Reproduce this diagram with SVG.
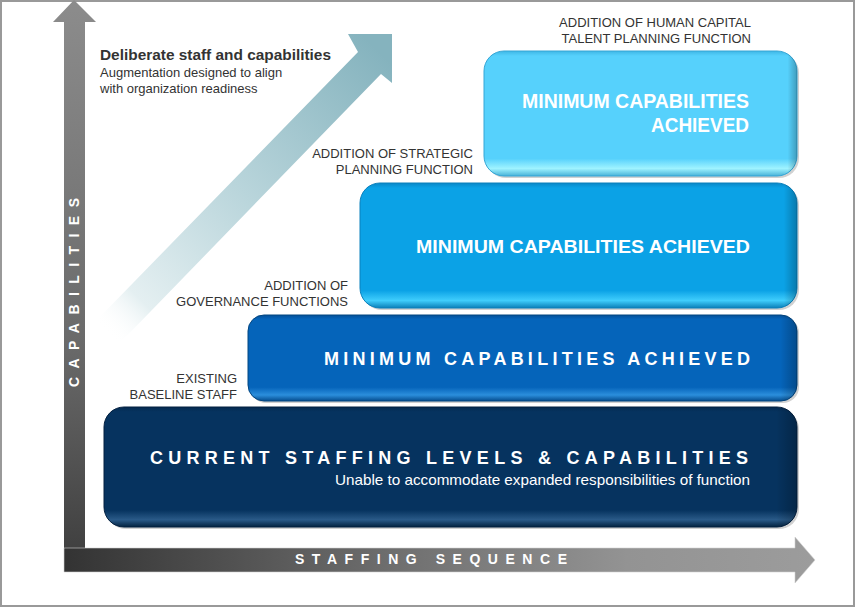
<svg xmlns="http://www.w3.org/2000/svg" width="855" height="607" viewBox="0 0 855 607">
<defs>
<linearGradient id="gV" x1="0" y1="0" x2="0" y2="572" gradientUnits="userSpaceOnUse">
<stop offset="0" stop-color="#8c8c8c"/><stop offset="0.6" stop-color="#6a6a6a"/><stop offset="1" stop-color="#3c3c3c"/>
</linearGradient>
<linearGradient id="gH" x1="64" y1="0" x2="815" y2="0" gradientUnits="userSpaceOnUse">
<stop offset="0" stop-color="#333"/><stop offset="0.45" stop-color="#707070"/><stop offset="0.75" stop-color="#939393"/><stop offset="1" stop-color="#9c9c9c"/>
</linearGradient>
<linearGradient id="gD" x1="104" y1="330" x2="380" y2="52" gradientUnits="userSpaceOnUse">
<stop offset="0" stop-color="#ffffff" stop-opacity="0"/><stop offset="0.12" stop-color="#e4eff1"/><stop offset="0.5" stop-color="#b9d5db"/><stop offset="1" stop-color="#85b3be"/>
</linearGradient>
<linearGradient id="g4" x1="0" y1="0" x2="0" y2="1">
<stop offset="0" stop-color="#3fb7e6"/><stop offset="0.04" stop-color="#56d1fc"/><stop offset="0.86" stop-color="#56d1fc"/><stop offset="0.94" stop-color="#9ff3ff"/><stop offset="1" stop-color="#48b2d8"/>
</linearGradient>
<linearGradient id="g3" x1="0" y1="0" x2="0" y2="1">
<stop offset="0" stop-color="#0a88c8"/><stop offset="0.04" stop-color="#0ba2e6"/><stop offset="0.86" stop-color="#0ba2e6"/><stop offset="0.94" stop-color="#3fcdfc"/><stop offset="1" stop-color="#0a7fb8"/>
</linearGradient>
<linearGradient id="g2" x1="0" y1="0" x2="0" y2="1">
<stop offset="0" stop-color="#04509a"/><stop offset="0.05" stop-color="#0564ba"/><stop offset="0.84" stop-color="#0564ba"/><stop offset="0.93" stop-color="#2b8edc"/><stop offset="1" stop-color="#044c8e"/>
</linearGradient>
<linearGradient id="g1" x1="0" y1="0" x2="0" y2="1">
<stop offset="0" stop-color="#042a50"/><stop offset="0.04" stop-color="#06335f"/><stop offset="0.86" stop-color="#06335f"/><stop offset="0.94" stop-color="#2a5a88"/><stop offset="1" stop-color="#03223f"/>
</linearGradient>
<linearGradient id="gR" x1="0" y1="0" x2="1" y2="0">
<stop offset="0" stop-color="#000" stop-opacity="0"/><stop offset="0.97" stop-color="#000" stop-opacity="0"/><stop offset="1" stop-color="#000" stop-opacity="0.25"/>
</linearGradient>
</defs>
<style>
.lbl{font-family:"Liberation Sans",Arial,sans-serif;font-size:13px;fill:#333;text-anchor:end}
.bt{font-family:"Liberation Sans",Arial,sans-serif;font-weight:bold;fill:#fff}
.ax{font-family:"Liberation Sans",Arial,sans-serif;font-weight:bold;fill:#fff;font-size:14px}
.shadow{fill:#000;opacity:0.18}
.ov{fill:url(#gR)}
</style>
<rect x="1" y="1" width="853" height="605" fill="#fff" stroke="#999" stroke-width="2"/>

<g id="axes">
<polygon points="64,572 64,22 53,22 74,0 96,22 85,22 85,572" fill="url(#gV)"/>
<polygon points="64,548 795,548 795,537 815,560 795,583 795,572 64,572" fill="url(#gH)" stroke="#d0d0d0" stroke-width="0.6"/>
<text class="ax" transform="translate(79,387) rotate(-90)" x="0" y="0" textLength="189" lengthAdjust="spacing">CAPABILITIES</text>
<text class="ax" x="295" y="564" textLength="272" lengthAdjust="spacing">STAFFING SEQUENCE</text>
</g>

<g id="connectors">
<polygon points="95,322 358,52 348,34 392,34 392,83 381,74 118,345" fill="url(#gD)"/>
</g>

<g id="note">
<text x="100" y="60" font-family="Liberation Sans, Arial, sans-serif" font-weight="bold" font-size="15.5" fill="#333" textLength="231" lengthAdjust="spacingAndGlyphs">Deliberate staff and capabilities</text>
<text x="100" y="77" font-family="Liberation Sans, Arial, sans-serif" font-size="13" fill="#333">Augmentation designed to align</text>
<text x="100" y="93" font-family="Liberation Sans, Arial, sans-serif" font-size="13" fill="#333">with organization readiness</text>
</g>

<g id="labels">
<text class="lbl" x="751" y="27">ADDITION OF HUMAN CAPITAL</text>
<text class="lbl" x="751" y="43">TALENT PLANNING FUNCTION</text>
<text class="lbl" x="473" y="158">ADDITION OF STRATEGIC</text>
<text class="lbl" x="473" y="174">PLANNING FUNCTION</text>
<text class="lbl" x="348" y="290">ADDITION OF</text>
<text class="lbl" x="348" y="306">GOVERNANCE FUNCTIONS</text>
<text class="lbl" x="237" y="383">EXISTING</text>
<text class="lbl" x="237" y="399">BASELINE STAFF</text>
</g>

<g id="box1">
<rect class="shadow" x="106" y="409" width="693" height="120" rx="20"/>
<rect x="104" y="407" width="693" height="120" rx="20" fill="url(#g1)" stroke="#032040" stroke-width="1"/>
<rect class="ov" x="104" y="407" width="693" height="120" rx="20"/>
<text class="bt" x="150" y="464" font-size="18" textLength="598" lengthAdjust="spacing">CURRENT  STAFFING  LEVELS  &amp;  CAPABILITIES</text>
<text x="335" y="485" font-family="Liberation Sans, Arial, sans-serif" font-size="14.5" fill="#fff" textLength="415" lengthAdjust="spacingAndGlyphs">Unable to accommodate expanded responsibilities of function</text>
</g>

<g id="box2">
<rect class="shadow" x="250" y="317" width="549" height="86" rx="16"/>
<rect x="248" y="315" width="549" height="86" rx="16" fill="url(#g2)" stroke="#034680" stroke-width="1"/>
<rect class="ov" x="248" y="315" width="549" height="86" rx="16"/>
<text class="bt" x="324" y="365" font-size="18" textLength="426" lengthAdjust="spacing">MINIMUM CAPABILITIES ACHIEVED</text>
</g>

<g id="box3">
<rect class="shadow" x="362" y="185" width="437" height="125" rx="20"/>
<rect x="360" y="183" width="437" height="125" rx="20" fill="url(#g3)" stroke="#0a80bc" stroke-width="1"/>
<rect class="ov" x="360" y="183" width="437" height="125" rx="20"/>
<text class="bt" x="416" y="253" font-size="19" textLength="334" lengthAdjust="spacingAndGlyphs">MINIMUM CAPABILITIES ACHIEVED</text>
</g>

<g id="box4">
<rect class="shadow" x="486" y="53" width="313" height="125" rx="20"/>
<rect x="484" y="51" width="313" height="125" rx="20" fill="url(#g4)" stroke="#35a6d6" stroke-width="1"/>
<rect class="ov" x="484" y="51" width="313" height="125" rx="20"/>
<text class="bt" x="522" y="108" font-size="20" textLength="227" lengthAdjust="spacingAndGlyphs">MINIMUM CAPABILITIES</text>
<text class="bt" x="651" y="132" font-size="20" textLength="98" lengthAdjust="spacingAndGlyphs">ACHIEVED</text>
</g>
</svg>
